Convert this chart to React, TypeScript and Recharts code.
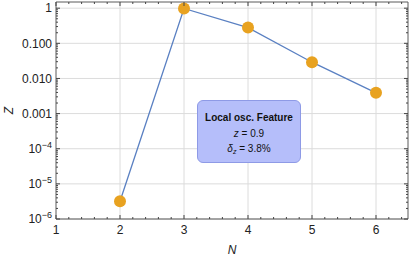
import React from 'react';
import { LineChart, Line, XAxis, YAxis, ReferenceLine, Label } from 'recharts';

const nValues = [2, 3, 4, 5, 6];
const zValues = [3.2e-6, 0.98, 0.28, 0.029, 0.0039];

const xMajorTicks = [1, 2, 3, 4, 5, 6];
const xMinorTicks: number[] = [];
for (let i = 1; i <= 6; i++) for (let j = 1; j <= 4; j++) if (i + j * 0.2 < 6.5) xMinorTicks.push(+(i + j * 0.2).toFixed(2));

const yMajorTicks = [1e-6, 1e-5, 1e-4, 1e-3, 1e-2, 1e-1, 1];
const yTickLabels: { [k: string]: { base: string; exp?: string } } = {
  '-6': { base: '10', exp: '\u22126' },
  '-5': { base: '10', exp: '\u22125' },
  '-4': { base: '10', exp: '\u22124' },
  '-3': { base: '0.001' },
  '-2': { base: '0.010' },
  '-1': { base: '0.100' },
  '0': { base: '1' },
};
const yMinorTicks: number[] = [];
for (let e = -6; e < 0; e++) for (let m = 2; m <= 9; m++) yMinorTicks.push(+(m * Math.pow(10, e)).toPrecision(3));

const xAllTicks = [...xMajorTicks, ...xMinorTicks].sort((a, b) => a - b);
const yAllTicks = [...yMajorTicks, ...yMinorTicks].sort((a, b) => a - b);

const data = nValues.map((n, i) => ({ n, z: zValues[i] }));

const FONT = 'Liberation Sans, Arial, sans-serif';
const FRAME = '#5a5a5a';
const TICK = '#444';
const GRID = '#dcdcdc';

const isXMajor = (v: number) => Math.abs(v - Math.round(v)) < 1e-6;
const isYMajor = (v: number) => Math.abs(Math.log10(v) - Math.round(Math.log10(v))) < 1e-6;

const XTickBottom = (props: any) => {
  const { x, y, payload } = props;
  const v = payload.value;
  const major = isXMajor(v);
  return (
    <g>
      <line x1={x} x2={x} y1={y} y2={y - (major ? 4 : 2)} stroke={TICK} strokeWidth={1} />
      {major && (
        <text x={x} y={y + 14.5} textAnchor="middle" fontSize={12} fontFamily={FONT} fill="#222">
          {v}
        </text>
      )}
    </g>
  );
};

const XTickTop = (props: any) => {
  const { x, y, payload } = props;
  const major = isXMajor(payload.value);
  return <line x1={x} x2={x} y1={y} y2={y + (major ? 4 : 2)} stroke={TICK} strokeWidth={1} />;
};

const YTickLeft = (props: any) => {
  const { x, y, payload } = props;
  const v = payload.value;
  const major = isYMajor(v);
  const lab = major ? yTickLabels[String(Math.round(Math.log10(v)))] : null;
  return (
    <g>
      <line x1={x} x2={x + (major ? 4 : 2)} y1={y} y2={y} stroke={TICK} strokeWidth={1} />
      {lab && (
        <text x={x - 4} y={y + 4.3} textAnchor="end" fontSize={12} fontFamily={FONT} fill="#222">
          {lab.base}
          {lab.exp && (
            <tspan fontSize={9} dy={-5}>
              {lab.exp}
            </tspan>
          )}
        </text>
      )}
    </g>
  );
};

const YTickRight = (props: any) => {
  const { x, y, payload } = props;
  const major = isYMajor(payload.value);
  return <line x1={x} x2={x - (major ? 4 : 2)} y1={y} y2={y} stroke={TICK} strokeWidth={1} />;
};

const ZLabel = (props: any) => {
  const vb = props.viewBox;
  const cx = vb.x + 9;
  const cy = vb.y + vb.height / 2;
  return (
    <text x={cx} y={cy} transform={`rotate(-90 ${cx} ${cy})`} textAnchor="middle" dominantBaseline="central" fontSize={12} fontStyle="italic" fontFamily={FONT} fill="#222">
      Z
    </text>
  );
};

const NLabel = (props: any) => {
  const vb = props.viewBox;
  return (
    <text x={vb.x + vb.width / 2} y={vb.y + 35} textAnchor="middle" fontSize={12} fontStyle="italic" fontFamily={FONT} fill="#222">
      N
    </text>
  );
};

export default function App() {
  return (
    <div style={{ position: 'absolute', left: 0, top: 0, width: 413, height: 259, background: '#fff' }}>
      <LineChart width={413} height={259} data={data} margin={{ top: 1, right: 4, bottom: 0, left: 0 }}>
        <XAxis
          xAxisId="bottom"
          dataKey="n"
          type="number"
          domain={[1, 6.5]}
          allowDataOverflow
          ticks={xAllTicks}
          interval={0}
          height={40}
          tickSize={0}
          tickMargin={0}
          tickLine={false}
          axisLine={{ stroke: FRAME }}
          tick={<XTickBottom />}
        >
          <Label content={<NLabel />} />
        </XAxis>
        <XAxis
          xAxisId="top"
          orientation="top"
          dataKey="n"
          type="number"
          domain={[1, 6.5]}
          allowDataOverflow
          ticks={xAllTicks}
          interval={0}
          height={1}
          tickSize={0}
          tickMargin={0}
          tickLine={false}
          axisLine={{ stroke: FRAME }}
          tick={<XTickTop />}
        />
        <YAxis
          yAxisId="left"
          type="number"
          scale="log"
          domain={[1e-6, 1.5]}
          allowDataOverflow
          ticks={yAllTicks}
          interval={0}
          width={56}
          tickSize={0}
          tickMargin={0}
          tickLine={false}
          axisLine={{ stroke: FRAME }}
          tick={<YTickLeft />}
        >
          <Label content={<ZLabel />} />
        </YAxis>
        <YAxis
          yAxisId="right"
          orientation="right"
          type="number"
          scale="log"
          domain={[1e-6, 1.5]}
          allowDataOverflow
          ticks={yAllTicks}
          interval={0}
          width={1}
          tickSize={0}
          tickMargin={0}
          tickLine={false}
          axisLine={{ stroke: FRAME }}
          tick={<YTickRight />}
        />
        {xMajorTicks.slice(1).map((v) => (
          <ReferenceLine key={'gx' + v} x={v} xAxisId="bottom" yAxisId="left" stroke={GRID} strokeWidth={1} />
        ))}
        {yMajorTicks.map((v) => (
          <ReferenceLine key={'gy' + v} y={v} xAxisId="bottom" yAxisId="left" stroke={GRID} strokeWidth={1} />
        ))}
        <Line
          xAxisId="bottom"
          yAxisId="left"
          dataKey="z"
          stroke="#5a80c2"
          strokeWidth={1.3}
          dot={{ r: 6, fill: '#e8a220', stroke: 'none' }}
          activeDot={false}
          isAnimationActive={false}
        />
      </LineChart>
      <div
        style={{
          position: 'absolute',
          left: 197,
          top: 100,
          width: 104,
          height: 63,
          boxSizing: 'border-box',
          background: '#b5befa',
          border: '1px solid #8e9ae6',
          borderRadius: 6,
          fontFamily: FONT,
          fontSize: 10,
          color: '#111',
          textAlign: 'center',
          lineHeight: '15.5px',
          paddingTop: 9,
        }}
      >
        <div style={{ fontWeight: 'bold' }}>Local osc. Feature</div>
        <div>
          <i>z</i> = 0.9
        </div>
        <div>
          <i>δ</i>
          <sub style={{ fontSize: 7, verticalAlign: -2 }}>
            <i>z</i>
          </sub>{' '}
          = 3.8%
        </div>
      </div>
    </div>
  );
}
